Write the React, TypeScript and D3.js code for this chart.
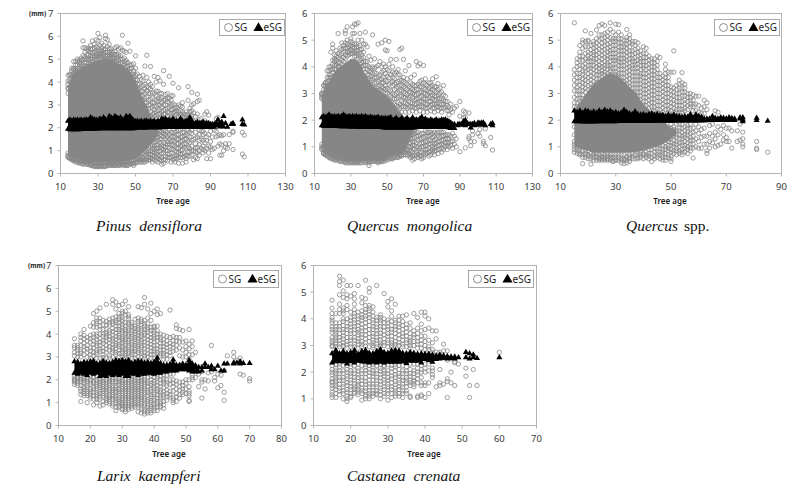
import * as d3 from "d3";

type Row = number[]; // [age, value, value, ...]

const yTicks7 = [0, 1, 2, 3, 4, 5, 6, 7];
const yTicks6 = [0, 1, 2, 3, 4, 5, 6];
const xTicks130 = [10, 30, 50, 70, 90, 110, 130];
const xTicks90 = [10, 30, 50, 70, 90];
const xTicks80 = [10, 20, 30, 40, 50, 60, 70, 80];
const xTicks70 = [10, 20, 30, 40, 50, 60, 70];

/* Saturated part of each SG cloud, read as [age, low, high] */
const pinusCore: Row[] = [[14,.87,3.75],[15,.78,4.05],[16,.72,4.25],[18,.65,4.45],[20,.6,4.55],[22,.55,4.65],[24,.52,4.75],[26,.5,4.85],[28,.48,4.9],[30,.47,4.95],[32,.47,5.0],[34,.47,5.05],[36,.47,5.0],[38,.47,4.95],[40,.5,4.85],[42,.52,4.75],[44,.52,4.65],[46,.55,4.55],[48,.6,4.35],[50,.66,4.05],[52,.8,3.65],[54,.92,3.25],[56,1.05,2.95],[58,1.25,2.55],[60,1.45,2.25],[62,1.7,2.0]];
const mongolicaCore: Row[] = [[14,1.0,2.95],[16,.8,3.25],[18,.7,3.45],[20,.63,3.7],[22,.58,3.9],[24,.55,4.0],[26,.52,4.1],[28,.5,4.2],[30,.5,4.3],[32,.48,4.3],[34,.48,4.2],[36,.5,4.0],[38,.5,3.7],[40,.5,3.5],[42,.5,3.3],[44,.5,3.2],[46,.52,3.1],[48,.55,3.0],[50,.6,2.9],[52,.63,2.75],[54,.7,2.55],[56,.7,2.35],[58,.75,2.25],[60,.85,2.05],[62,1.2,1.85],[64,1.5,1.7]];
const quercusCore: Row[] = [[15,1.0,2.4],[18,.9,2.8],[20,.85,3.1],[22,.78,3.35],[25,.78,3.6],[28,.78,3.75],[31,.78,3.65],[34,.78,3.35],[37,.8,3.05],[40,.85,2.6],[43,.95,2.3],[46,1.05,2.1],[48,1.15,1.9],[50,1.3,1.7],[52,1.5,1.65]];
const larixCore: Row[] = [];
const castaneaCore: Row[] = [];

/* SG circles around the core: [age, values...] */
const pinusSg: Row[] = [
[14,3.5,3.7,3.9,4.3,.8,.9],[15,3.8,4.0,4.35,.7],[16,4.0,4.2,4.5,.65],[17,4.3,4.6,.7,.6],[18,4.4,4.6,4.9,.6],[19,4.5,4.9,.55],[20,4.6,4.95,.5],[21,4.5,4.8,5.05,.55],[22,4.6,5.0,5.5,5.8,.45],[23,4.7,5.1,5.3,.5],[24,4.7,5.0,5.45,.4],[25,4.8,5.2,5.5,.45],[26,4.8,5.3,5.6,.4],[27,4.9,5.25,5.8,.4],[28,5.0,5.5,5.65,.35],[29,5.0,5.3,5.85,.35],[30,5.0,5.25,5.5,6.13,.3],[31,5.05,5.4,5.95,.35],[32,5.0,5.35,5.7,.35],[33,5.1,5.4,5.6,.3],[34,5.05,5.3,5.9,6.05,.3],[35,5.0,5.55,5.85,.4],[36,5.1,5.3,5.65,.45],[37,5.0,5.2,5.45,.4],[38,4.9,5.1,5.3,.4],[39,4.9,5.2,5.5,.4],[40,4.85,5.05,5.55,.45],[41,4.8,5.2,5.45,.4],[42,4.7,5.0,5.5,.35],[43,4.65,5.4,6.05,.45],[44,4.6,4.9,5.35,.4],[45,4.5,4.85,5.3,.35],[46,4.4,4.7,5.7,.4],[47,4.3,4.75,5.35,.5],[48,4.2,4.6,.45],[49,4.1,4.5,4.8,.35],[50,3.8,4.1,5.15,.5],
[51,3.1,3.5,3.9,4.35,.6,.8],[52,2.9,3.3,3.7,4.25,.5,.7],[53,2.7,3.2,3.6,4.1,.75,.5],[54,2.6,3.0,3.4,3.85,4.3,.5,.7],[55,2.5,2.9,3.3,3.7,4.7,.5,.8],[56,2.6,3.1,3.6,4.2,5.17,.55,.9,1.0],[57,2.3,2.8,3.2,3.75,4.0,.6,.95],[58,2.5,3.0,3.5,3.9,4.68,.6,1.0,1.2],[59,2.4,2.9,3.3,3.8,.5,.8,1.1,1.5],[60,2.5,2.8,3.1,4.25,.6,.9,1.2,1.5,1.8],[61,2.4,2.7,3.2,3.6,4.0,.55,.85,1.1,1.4,1.7],[62,2.6,3.0,3.3,4.2,.5,.8,1.25,1.6,1.9],[63,2.4,2.8,3.25,4.05,.6,1.0,1.35,1.7],[64,2.5,2.9,3.1,3.5,.4,.7,1.1,1.5,1.8],[65,2.4,2.75,3.2,3.9,4.5,.45,.9,1.2,1.6,1.9],[66,2.6,3.0,3.45,.6,1.0,1.3,1.7],[67,2.5,2.85,3.15,3.5,.55,.85,1.4,1.8],[68,2.4,2.9,3.3,4.25,.7,1.1,1.5,1.9],[69,2.6,3.0,3.4,.5,.9,1.25,1.6],[70,2.5,2.8,3.05,3.95,.6,1.05,1.45,1.8],[71,2.4,2.7,3.0,.5,.75,1.2,1.6],[72,2.6,2.9,.8,1.1,1.5,1.85],[73,2.5,3.75,.45,.9,1.3,1.7],[74,2.45,2.75,.7,1.0,1.4,1.9],[75,2.5,2.9,3.1,.45,.85,1.25,1.6],[76,2.3,2.6,.9,1.15,1.5,1.8],[77,2.45,2.7,.5,.8,1.3,1.7],[78,2.6,3.2,3.8,.95,1.4,1.9],[79,2.5,2.85,.75,1.1,1.6],[80,2.4,2.75,3.0,3.55,.8,1.2,1.75],[81,2.3,2.65,3.05,.6,1.0,1.5],[82,2.5,.7,1.3,1.8],[83,2.6,3.15,3.47,.65,.9,1.15,1.6],[84,2.35,3.2,.8,1.25,1.7],[85,2.4,1.1,1.5,1.85],[86,.9,1.2,1.7],[87,2.3,2.6,1.0,1.35,1.75],[88,2.7,.65,1.1,1.45,1.6],[89,2.55,.9,1.2,1.7],[90,.65,1.15,1.4,1.85],[91,1.05,1.6],[92,1.1,1.9],[93,2.4,1.6,1.85],[94,2.45,1.65,1.2],[95,.8,1.3,1.7],[96,.8,1.25,1.65],[97,1.7,1.0],[98,1.15,1.3],[99,1.1],[100,1.3,1.7],[102,1.05,1.8,1.85],[107,.85,1.8],[108,.73,1.68],
];
const pinusSgDense: Row[] = [
[14,3.75,4.05,.75,.7],[15,4.1,4.3,.65,.8],[16,4.3,4.6,.6,.7],[17,4.4,4.55,4.9,.55,.65],[18,4.5,4.75,.5,.6],[19,4.6,4.75,5.0,.5,.6],[20,4.7,4.85,.45,.55],[21,4.7,4.95,.45,.6],[22,4.75,5.15,.4,.55],[23,4.85,5.0,5.5,.45,.55],[24,4.85,5.2,.4,.5],[25,4.95,5.05,5.4,.4,.5],[26,5.0,5.15,5.45,.35,.5],[27,5.0,5.15,5.45,.35,.45],[28,5.1,5.3,.3,.45],[29,5.1,5.2,5.55,.3,.45],[30,5.1,5.35,5.8,.35,.5],[31,5.15,5.25,5.6,.3,.45],[32,5.15,5.25,5.5,.3,.45],[33,5.2,5.3,.35,.45],[34,5.15,5.45,.35,.5],[35,5.15,5.3,.35,.45],[36,5.2,5.45,.35,.5],[37,5.1,5.35,.35,.45],[38,5.05,5.2,.35,.45],[39,5.05,5.35,.35,.5],[40,4.95,5.2,.35,.5],[41,4.95,5.1,.35,.45],[42,4.85,5.15,.4,.5],[43,4.8,5.0,.4,.5],[44,4.75,5.05,.35,.5],[45,4.65,4.95,.4,.5],[46,4.55,4.85,.35,.5],[47,4.45,4.6,.45,.55],[48,4.35,4.75,.4,.55],[49,4.25,4.35,.45,.55],[50,3.95,4.3,4.6,.45,.6],
[51,3.3,3.7,4.1,.5,.7,1.0],[52,3.1,3.5,3.9,.6,.85,1.05],[53,2.9,3.4,3.8,.6,.85,1.1],[54,2.8,3.2,3.6,4.05,.6,.85,1.15],[55,2.7,3.1,3.5,3.9,.6,.95,1.25],[56,2.85,3.35,3.8,.65,.75,1.2],[57,2.55,3.0,3.5,.7,.85,1.15,1.35],[58,2.7,3.25,3.7,.7,.85,1.4,1.6],[59,2.6,3.1,3.55,.65,.95,1.25,1.7],[60,2.65,2.95,3.5,.75,1.05,1.35,1.65],[61,2.55,2.95,3.4,.7,.95,1.25,1.55,1.85],[62,2.75,3.15,3.6,.65,.95,1.1,1.45,1.75],[63,2.6,3.0,3.5,.75,1.15,1.5,1.85],[64,2.7,3.3,.55,.85,1.25,1.65],[65,2.6,3.0,.6,1.05,1.35,1.75],[66,2.8,3.25,.75,1.15,1.5,1.85],[67,2.7,3.3,.7,1.0,1.25,1.6],[68,2.65,3.1,.85,1.3,1.7],[69,2.8,3.2,.7,1.05,1.4,1.8],[70,2.65,3.4,.75,1.25,1.6],[71,2.55,2.85,.65,1.0,1.4,1.8],[72,2.75,.65,.95,1.3,1.7],[73,2.7,3.0,.7,1.1,1.5,1.9],[74,2.6,2.95,.85,1.2,1.6],[75,2.7,.7,1.05,1.45,1.8],[76,2.45,.75,1.3,1.65],[77,2.55,.65,1.1,1.5,1.9],[78,2.4,.75,1.15,1.65],[79,2.7,.95,1.35,1.8],[80,2.55,1.0,1.45,1.9],[82,.95,1.1,1.55],[84,1.0,1.45,1.9],[86,1.05,1.45,1.85],
];
const mongolicaSg: Row[] = [
[14,2.8,2.95,3.0,.95,1.0],[15,3.3,3.0,2.85,.75,.8,1.0],[16,3.4,3.25,3.1,.7,.75],[17,3.45,3.3,3.85,.7],[18,3.5,3.7,4.0,.65],[19,3.6,3.9,4.55,.6],[20,3.8,4.1,4.85,4.7,.6],[21,3.9,4.2,4.45,.55],[22,3.9,4.1,4.4,4.6,.6],[23,4.0,4.35,5.25,.55],[24,4.0,4.3,4.7,.5],[25,4.1,4.5,4.9,.55],[26,4.2,4.55,4.8,.5],[27,4.3,4.7,5.25,5.35,.45],[28,4.4,4.7,5.0,5.5,.5],[29,4.45,4.6,4.85,.5],[30,4.5,4.8,5.05,.45],[31,4.5,4.75,5.5,5.25,.5],[32,4.4,4.7,5.25,5.6,.45],[33,4.4,4.6,4.85,5.6,.45],[34,4.3,4.6,5.0,5.65,.45],[35,4.1,4.5,4.8,5.25,.5],[36,4.0,4.3,4.65,5.0,.5],[37,3.9,4.2,4.55,4.85,.55],[38,3.6,4.05,4.85,5.3,.45],[39,3.5,3.9,4.2,4.75,.5],[40,3.4,3.7,4.0,4.4,.45,.3],[41,3.3,3.65,3.95,4.25,.5],[42,3.2,3.55,4.0,5.2,.55],[43,3.2,3.6,3.95,4.3,.5],[44,3.0,3.4,3.75,4.0,.5],[45,3.1,3.45,4.05,4.85,.45],[46,3.0,3.3,3.7,4.2,.5],[47,2.9,3.25,3.55,4.0,4.9,.5],[48,2.85,3.2,3.6,4.1,.55],[49,2.8,3.15,3.5,4.0,4.63,5.0,.55],[50,2.6,3.0,3.45,3.9,4.6,.6],[51,2.4,2.75,3.15,3.6,4.1,4.95,.6],[52,2.3,2.7,3.1,3.7,4.28,.65],[53,2.4,2.8,3.3,3.6,4.0,.6],
[54,2.25,2.6,2.95,3.35,3.75,.65,.8],[55,2.4,2.8,3.2,3.8,4.28,.7],[56,2.3,2.65,3.05,3.45,3.9,.65],[57,2.45,2.9,3.3,3.7,4.65,.7,.9],[58,2.3,2.7,3.1,3.5,4.7,.65,.85],[59,2.5,2.85,3.25,3.6,4.28,.7,.95],[60,2.3,2.65,3.0,3.4,3.85,.8,1.05,1.3],[61,2.45,2.8,3.15,3.55,.7,.9,1.2,1.5],[62,2.3,2.7,3.05,4.05,.65,1.0,1.35,1.6],[63,2.5,2.9,3.2,3.6,.6,.85,1.15,1.45],[64,2.35,2.65,3.0,3.35,.5,.8,1.05,1.3,1.55],[65,2.45,2.75,3.1,3.7,.55,.9,1.2,1.6],[66,2.3,2.6,2.95,3.3,4.2,.65,1.0,1.4],[67,2.5,2.8,3.15,4.03,.6,.85,1.25,1.55],[68,2.35,2.7,3.05,3.45,4.12,.65,.95,1.3],[69,2.5,2.9,3.25,.55,.8,1.15,1.5],[70,2.3,2.65,3.0,3.4,4.05,.6,1.0,1.35],[71,2.45,2.8,3.15,3.55,.7,.9,1.2,1.6],[72,2.3,2.6,2.95,3.3,.75,1.05,1.4],[73,2.5,2.85,3.2,.65,.95,1.25,1.55],[74,2.35,2.7,3.05,3.4,.7,1.1,1.45],[75,2.45,2.8,3.55,3.15,.8,1.0,1.35],[76,2.3,2.6,2.9,3.25,.7,.95,1.25,1.55],[77,2.5,2.75,3.05,3.63,.85,1.15,1.5],[78,2.35,2.65,2.95,3.37,.75,1.05,1.4],[79,2.45,2.8,3.2,.9,1.2,1.55],[80,2.3,2.6,3.05,.8,1.1,1.4],[81,2.45,2.75,3.3,.9,1.25,1.55],[82,2.5,2.9,1.0,1.3],[83,2.35,2.7,.9,1.15,1.45],[84,2.2,2.5,1.0,1.3],[85,2.6,1.05,1.4],[86,2.3,.95,1.2,1.5],[87,2.45,1.1,1.4],[88,2.52,1.0,1.3],[90,2.7,.82,2.15],[92,2.35,2.1],[93,.96,2.1,2.3],[95,2.27,1.38,1.3],[96,1.04,1.2],[97,1.6,1.45],[98,1.2],[100,1.5],[101,1.4,1.65],[103,1.12,1.2],[104,1.04,1.68],[107,1.35],[108,.88],
];
const mongolicaSgDense: Row[] = [
[14,2.85,3.0,.9,1.1],[15,3.15,3.3,.75,.9],[16,3.3,3.4,.7,.85],[17,3.6,3.4,.65,.8],[18,3.6,3.85,.6,.75],[19,3.7,4.0,.55,.7],[20,3.9,4.25,.55,.7],[21,4.05,4.3,.5,.65],[22,4.05,4.25,.5,.6],[23,4.15,4.5,.5,.65],[24,4.15,4.45,.45,.6],[25,4.25,4.65,.45,.6],[26,4.35,4.7,.45,.55],[27,4.45,4.9,.4,.55],[28,4.55,4.85,.4,.55],[29,4.55,4.75,.4,.5],[30,4.65,4.95,.4,.55],[31,4.6,4.9,.4,.55],[32,4.55,4.85,.4,.5],[33,4.5,4.75,.4,.55],[34,4.45,4.75,.4,.5],[35,4.25,4.65,.4,.55],[36,4.15,4.45,.4,.55],[37,4.05,4.35,.45,.6],[38,3.8,4.2,.4,.55],[39,3.7,4.05,.45,.6],[40,3.55,3.85,.4,.55],[41,3.5,3.8,.45,.6],[42,3.35,3.75,.45,.6],[43,3.4,3.8,.45,.55],[44,3.2,3.6,.45,.6],[45,3.25,3.65,.4,.55],[46,3.15,3.5,.45,.6],[47,3.1,3.4,3.8,.45,.55],[48,3.05,3.4,3.85,.45,.6],[49,3.0,3.3,3.75,.5,.65],[50,2.75,3.2,3.65,.5,.7],[51,2.6,2.95,3.35,3.85,.55,.7],[52,2.5,2.9,3.4,.55,.75],[53,2.55,3.0,3.45,3.8,.55,.75],
[54,2.45,2.8,3.15,3.55,.6,.9],[55,2.55,3.0,3.4,.6,.85,1.0],[56,2.5,2.85,3.25,3.7,.6,.8,1.05],[57,2.6,3.1,3.5,.65,.8,1.1],[58,2.5,2.9,3.3,.7,.95,1.2],[59,2.65,3.05,3.45,.8,1.1,1.4],[60,2.5,2.85,3.2,.7,.9,1.2,1.5],[61,2.6,2.95,3.35,.85,1.05,1.35,1.65],[62,2.5,2.85,3.25,.75,.85,1.15,1.45],[63,2.65,3.05,3.4,.7,1.0,1.3,1.6],[64,2.5,2.85,3.15,.65,.95,1.2,1.45],[65,2.6,2.95,3.3,.7,1.05,1.35,1.5],[66,2.45,2.8,3.15,.8,1.15,1.55],[67,2.65,3.0,3.35,.7,1.0,1.4],[68,2.5,2.85,3.25,.8,1.1,1.45],[69,2.7,3.05,3.5,.65,1.0,1.3],[70,2.5,2.8,3.2,.75,1.15,1.5],[71,2.6,3.0,3.35,.8,1.05,1.4],[72,2.45,2.8,3.1,.9,1.2,1.55],[73,2.7,3.05,3.4,.8,1.1,1.4],[74,2.55,2.9,3.25,.85,1.25,1.55],[75,2.6,2.95,3.3,.9,1.15,1.5],[76,2.45,2.75,3.1,.85,1.1,1.4],[77,2.6,2.9,3.25,1.0,1.3],[78,2.5,2.8,3.15,.9,1.2,1.55],[79,2.6,3.0,1.05,1.35],[80,2.45,2.8,.95,1.25,1.55],[81,2.6,2.95,1.05,1.4],[82,2.7,1.15,1.45],[83,2.55,1.05,1.3],[84,2.35,1.15,1.45],[85,2.4,1.2],
];
const quercusSg: Row[] = [
[15,5.65,3.9,3.5,3.1,2.85,2.5,.8,1.0,1.2],[16,4.3,4.0,3.75,3.45,3.1,2.8,2.5,.75,.95],[17,4.8,4.55,4.25,3.9,3.6,3.3,2.95,2.7,.75,.85],[18,5.0,4.9,4.4,4.05,3.7,3.4,3.1,2.8,.37,.7],[19,5.35,4.75,4.5,4.1,3.85,3.5,3.2,.7,.6],[20,4.95,4.55,4.3,4.05,3.75,3.45,3.15,.7,.55],[21,5.25,4.8,4.5,4.2,3.95,3.65,3.35,.35,.65],[22,4.95,4.7,4.45,4.2,3.9,3.6,3.3,.6,.5],[23,5.38,5.05,4.75,4.45,4.15,3.85,3.55,.65,.5],[24,5.55,5.0,4.8,4.5,4.2,3.95,3.7,.6,.5],[25,5.6,5.2,4.9,4.6,4.3,4.0,3.75,.55,.65],[26,5.55,5.25,4.95,4.65,4.35,4.05,3.8,.5,.6],[27,5.15,4.85,4.55,4.3,4.05,3.75,.5,.65],[28,5.65,5.4,4.75,4.5,4.2,3.95,3.7,.5,.6],[29,5.05,4.8,4.5,4.25,3.95,3.7,.45,.6],[30,5.6,5.2,4.95,4.65,4.35,4.1,3.8,.5,.6],[31,5.58,5.05,4.75,4.45,4.2,3.9,3.65,.5],[32,5.2,4.9,4.6,4.3,4.05,3.75,3.5,.4,.55],[33,5.0,4.75,4.45,4.2,3.9,3.6,3.35,.37,.55],[34,5.4,5.1,4.85,4.55,4.25,3.95,3.65,3.35,.4,.6],[35,5.2,4.9,4.6,4.3,4.0,3.7,3.4,.45,.6],[36,4.85,4.6,4.3,4.05,3.8,3.5,3.2,.55,.65],[37,4.95,4.65,4.35,4.1,3.8,3.5,3.2,2.95,.55],[38,4.9,4.55,4.25,3.95,3.65,3.35,3.05,.55,.7],[39,4.45,4.2,3.9,3.65,3.35,3.05,2.75,.6,.8],[40,4.75,4.5,4.2,3.95,3.6,3.3,3.0,2.7,2.45,.55,.7],[41,4.7,4.35,4.05,3.75,3.45,3.15,2.85,2.55,.7,.6],[42,4.4,4.1,3.8,3.5,3.2,2.9,2.6,.55,.75],[43,4.3,4.0,3.7,3.4,3.1,2.8,2.5,2.25,.45,.75],[44,4.15,3.85,3.55,3.25,2.95,2.65,2.35,.65,.8],[45,4.4,4.2,3.9,3.6,3.3,3.0,2.7,2.4,.6,.8],[46,3.75,3.45,3.15,2.85,2.55,2.25,.55,.8,.95],[47,3.65,3.35,3.05,2.75,2.45,.5,.7,.9],[48,4.1,3.9,3.6,3.3,3.0,2.7,2.4,.5,.75,1.0],[49,3.8,3.45,3.15,2.85,2.55,2.3,.7,.85,1.05,1.3,1.55],[50,3.8,3.25,2.95,2.65,2.35,.45,.65,.9,1.15,1.4,1.7],[51,4.6,3.8,3.2,2.9,2.6,2.3,.75,1.0,1.25,1.5,1.75],[52,3.3,3.0,2.7,2.4,.7,.95,1.2,1.45],[53,3.5,3.2,2.85,2.55,2.3,.75,1.0,1.3,1.6,1.85],[54,3.78,3.4,3.05,2.7,2.4,.7,.9,1.15,1.4,1.7],[55,3.35,3.05,2.75,2.45,.8,1.05,1.35,1.6],[56,3.0,2.7,2.4,.75,1.0,1.3,1.55,1.8],[57,3.0,2.75,2.5,.85,1.1,1.35,1.7],[58,2.95,2.6,2.35,.58,.95,1.25,1.55],[59,2.9,2.6,2.35,1.0,1.3,1.6,1.85],[60,2.9,2.55,2.3,.95,1.2,1.5,1.75],[61,2.45,2.25,.95,1.35,1.65],[62,2.75,2.5,2.25,1.1,1.4,1.7],[63,2.65,2.4,.75,.85,1.1,1.4],[64,.95,1.2,1.5,1.8],[65,1.15,1.4,1.85],[66,2.35,1.0,1.3,1.55],[67,2.3,1.05,1.45,1.75],[68,1.1,1.65],[69,1.25,1.45,1.8],[70,1.2,1.35,1.7],[71,1.2,1.7],[72,.95,1.6],[74,1.2,1.6],[75,1.25,1.85],[76,1.0,1.1,1.3,1.55],[81,.95,1.2,.9],[85,.8],
];
const quercusSgDense: Row[] = [
[15,3.3,2.65,3.7,.9,1.1,1.45,1.75],[16,4.15,3.6,3.25,2.95,2.65,.85,1.15],[17,4.4,4.05,3.75,3.45,3.1,2.8,.95,.7],[18,4.7,4.25,3.85,3.55,3.25,2.95,.85,.6],[19,4.95,4.3,3.95,3.65,3.35,3.05,.85,.75],[20,5.0,4.75,4.4,4.2,3.9,3.6,3.3,.85,.65],[21,4.65,4.35,4.05,3.8,3.5,3.2,.75,.55],[22,4.85,4.55,4.3,4.05,3.75,3.45,.7,.8],[23,4.9,4.6,4.3,4.0,3.7,3.4,.75,.6],[24,5.2,4.65,4.35,4.05,3.8,3.55,.7,.55],[25,5.05,4.75,4.45,4.15,3.85,3.6,.75,.5],[26,5.1,4.8,4.5,4.2,3.95,3.7,.7,.55],[27,5.3,5.0,4.7,4.4,4.15,3.9,3.65,.75,.55],[28,5.1,4.9,4.6,4.35,4.05,3.85,.7,.55],[29,5.3,4.95,4.65,4.35,4.1,3.8,.7,.5],[30,5.05,4.8,4.5,4.25,3.95,3.7,.7,.5],[31,5.3,4.9,4.6,4.3,4.05,3.75,.7,.6],[32,5.05,4.75,4.45,4.15,3.9,3.6,.7,.5],[33,4.85,4.6,4.3,4.05,3.75,3.45,.7,.5],[34,5.0,4.7,4.4,4.1,3.8,3.5,.65,.5],[35,5.05,4.75,4.45,4.15,3.85,3.55,3.25,.7,.55],[36,4.95,4.45,4.2,3.95,3.65,3.35,3.05,.75],[37,4.8,4.5,4.2,3.95,3.65,3.35,3.05,.7],[38,4.7,4.4,4.1,3.8,3.5,3.2,2.9,.8,.6],[39,4.6,4.3,4.05,3.75,3.5,3.2,2.9,2.6,.7],[40,4.35,4.05,3.75,3.45,3.15,2.85,2.55,.75],[41,4.5,4.2,3.9,3.6,3.3,3.0,2.7,2.4,.8],[42,4.25,3.95,3.65,3.35,3.05,2.75,2.45,.65,.9],[43,4.15,3.85,3.55,3.25,2.95,2.65,2.35,.6,.9],[44,4.3,4.0,3.7,3.4,3.1,2.8,2.5,.55,.95],[45,4.05,3.75,3.45,3.15,2.85,2.55,2.3,.7,.95],[46,4.35,3.6,3.3,3.0,2.7,2.4,.7,1.05],[47,3.5,3.2,2.9,2.6,2.3,.6,.8,1.05],[48,3.75,3.45,3.15,2.85,2.55,.6,.9,1.15],[49,3.6,3.3,3.0,2.7,2.4,.6,.95,1.2,1.45,1.75],[50,3.1,2.8,2.5,.55,.8,1.05,1.3,1.55,1.85],[51,3.05,2.75,2.45,.85,1.1,1.4,1.65],[52,3.15,2.85,2.55,2.3,.85,1.1,1.35,1.6,1.85],[53,3.35,3.0,2.7,2.4,.85,1.15,1.45,1.7],[54,3.2,2.9,2.55,2.3,.8,1.05,1.3,1.55,1.85],[55,3.2,2.9,2.6,2.35,.95,1.2,1.45,1.75],[56,2.85,2.55,.9,1.15,1.45,1.7],[57,2.85,2.6,.95,1.25,1.5,1.85],[58,2.75,2.5,1.1,1.4,1.7],
];
const larixSg: Row[] = [
[15,3.8,3.5,3.2,2.0,1.9,1.8],[16,3.5,3.3,3.15,3.0,2.1,1.95,1.75],[17,4.0,3.85,3.5,3.25,3.0,2.1,1.9,1.6,1.35,1.05],[18,4.2,3.8,3.6,3.3,3.1,2.05,1.85,1.7,1.5,1.3],[19,3.7,3.5,3.2,2.1,1.9,1.75,1.5,1.3,1.0],[20,4.35,3.95,3.65,3.4,3.1,2.0,1.8,1.6,1.4,1.2],[21,4.9,4.5,4.0,3.7,3.4,3.2,3.05,2.1,1.85,1.6,1.3,.9],[22,5.0,4.7,4.55,4.3,4.0,3.75,3.5,3.3,3.1,2.0,1.8,1.6,1.45,1.25,1.0],[23,5.15,4.55,4.35,4.0,3.8,3.5,3.25,2.05,1.85,1.65,1.4,1.15,.85],[24,4.6,4.4,3.9,3.6,3.4,3.1,2.1,1.9,1.7,1.5,1.3,.9],[25,5.3,4.55,4.2,3.95,3.7,3.5,3.2,2.0,1.8,1.6,1.4,1.2,1.0],[26,4.65,4.4,4.15,3.9,3.6,3.3,3.05,2.05,1.85,1.6,1.35,1.15,.95],[27,5.5,5.3,4.7,4.45,4.25,3.95,3.7,3.4,3.2,2.1,1.9,1.65,1.45,1.25,.85],[28,5.4,5.1,4.75,4.5,4.2,3.9,3.6,3.35,3.1,2.0,1.75,1.55,1.3,1.1,.65],[29,5.25,4.9,4.65,4.35,4.1,3.85,3.55,3.3,2.05,1.85,1.6,1.4,1.15,.95,.8],[30,5.3,5.0,4.75,4.55,4.3,4.05,3.8,3.6,3.35,3.15,2.1,1.9,1.7,1.5,1.3,1.1,.85,.7],[31,5.45,5.0,4.5,4.2,4.0,3.75,3.5,3.25,3.05,2.0,1.8,1.6,1.4,1.2,1.0,.8,.6],[32,5.2,4.85,4.65,4.4,4.15,3.9,3.65,3.4,3.15,2.1,1.9,1.7,1.5,1.3,1.1,.9,.7],[33,4.5,4.3,4.05,3.8,3.55,3.3,3.1,2.05,1.85,1.65,1.45,1.25,1.05,.85],[34,4.25,4.0,3.75,3.5,3.25,2.0,1.8,1.6,1.4,1.2,1.0,.8],[35,5.2,4.7,4.45,4.2,3.95,3.7,3.45,3.2,2.1,1.9,1.7,1.5,1.3,1.1,.9,.6],[36,5.15,4.65,4.4,4.15,3.9,3.65,3.4,3.15,2.05,1.85,1.65,1.45,1.25,1.05,.8,.55],[37,5.6,5.3,4.6,4.35,4.05,3.8,3.5,3.2,2.0,1.8,1.6,1.35,1.1,.85,.5],[38,5.1,4.7,4.3,4.1,3.75,3.45,3.15,2.1,1.85,1.55,1.3,1.05,.8,.55],[39,5.35,4.9,4.3,4.0,3.7,3.4,3.1,2.0,1.75,1.5,1.25,1.0,.75,.55],[40,5.0,4.3,4.05,3.8,3.5,3.25,2.1,1.85,1.6,1.35,1.1,.85,.65],[41,5.1,4.85,4.35,4.0,3.7,3.35,3.1,2.05,1.75,1.5,1.2,.95,.65],[42,4.9,4.0,3.75,3.45,3.15,2.0,1.7,1.45,1.2,.95,.8],[43,3.95,3.6,3.3,3.05,2.05,1.85,1.5,1.25,.9,.75],[44,3.9,3.55,3.25,2.0,1.75,1.4,1.1],[45,5.05,3.6,3.45,1.8,1.25],[46,3.9,3.7,3.4,2.0,1.7,1.1,1.0],[47,4.4,4.25,3.85,3.5,1.95,1.6,1.25,1.05],[48,4.2,3.65,3.05,1.9,1.55,1.2],[49,4.15,3.3,1.75,1.6,1.35],[50,3.7,3.45,3.0,1.85,1.4],[51,4.2,3.55,3.1,2.0,1.5,1.3,1.1,1.05],[52,3.7,3.45,2.2,2.0],[53,3.2,2.1],[54,1.7,2.25],[55,1.9,2.0,1.2,2.35],[56,2.0,1.6],[57,2.3,1.95],[58,3.5,2.35],[59,2.1,1.95],[60,2.25,1.65],[61,2.2,1.75],[62,2.4,1.45,1.1],[63,3.05],[65,3.2,3.0],[66,2.85],[67,2.95,2.25],[68,2.2],[70,2.05,1.95],
];
const larixSgDense: Row[] = [
[15,3.4,3.05,1.95,2.05,2.15],[16,3.4,2.05,1.85,2.15],[17,3.7,3.15,2.0,1.75,1.5,2.2],[18,3.95,3.45,1.95,1.6,1.4,2.12],[19,3.85,3.35,2.98,2.0,1.65,1.4],[20,3.8,3.25,2.95,1.9,1.5,1.3,2.15],[21,4.3,3.85,3.55,1.95,1.7,1.45,1.15,2.12],[22,4.45,3.9,3.6,3.2,2.95,1.9,1.7,1.35,1.15,2.15],[23,4.7,4.2,3.65,3.35,2.95,1.95,1.75,1.5,1.25],[24,4.2,4.0,3.7,3.25,2.98,2.0,1.8,1.6,1.4,1.05],[25,4.4,4.05,3.85,3.35,2.95,1.9,1.7,1.5,1.3,1.1],[26,4.5,4.05,3.75,3.45,2.95,1.95,1.75,1.5,1.25,1.05,2.12],[27,4.55,4.1,3.8,3.55,3.3,3.0,2.0,1.75,1.55,1.35,1.15,.95],[28,4.6,4.35,4.05,3.75,3.5,3.2,1.9,1.65,1.45,1.2,1.0,.8,2.1],[29,4.75,4.5,4.2,3.95,3.7,3.45,3.15,3.0,1.95,1.75,1.5,1.3,1.05,.85],[30,4.9,4.65,4.4,4.15,3.9,3.7,3.45,3.25,3.0,2.0,1.8,1.6,1.4,1.2,1.0,.95,.75],[31,4.85,4.35,4.1,3.85,3.6,3.35,3.15,2.95,1.9,1.7,1.5,1.3,1.1,.9,.7],[32,4.75,4.5,4.25,4.0,3.75,3.5,3.25,3.0,2.0,1.8,1.6,1.4,1.2,1.0,.8],[33,4.4,4.15,3.9,3.65,3.4,3.2,2.95,1.95,1.75,1.55,1.35,1.15,.95,.75,2.15],[34,4.65,4.35,4.1,3.85,3.6,3.35,3.1,2.95,1.9,1.7,1.5,1.3,1.1,.9,2.12],[35,4.55,4.3,4.05,3.8,3.55,3.3,3.0,2.0,1.8,1.6,1.4,1.2,1.0,.8],[36,4.55,4.25,4.0,3.75,3.5,3.25,3.0,1.95,1.75,1.55,1.35,1.15,.95,.7,2.12],[37,4.45,4.2,3.95,3.65,3.35,3.05,2.95,1.9,1.7,1.45,1.2,.95,.7,.6,2.12],[38,4.45,4.2,3.9,3.6,3.3,3.0,1.95,1.7,1.45,1.15,.9,.65],[39,4.6,4.15,3.85,3.55,3.25,2.95,1.85,1.6,1.35,1.1,.85,.65,2.15],[40,4.35,4.15,3.9,3.65,3.35,3.1,2.95,1.95,1.7,1.45,1.2,.95,.75],[41,4.15,3.85,3.5,3.2,1.9,1.6,1.35,1.05,.8,2.15],[42,3.85,3.6,3.3,3.05,1.85,1.55,1.3,1.05,.85,2.15],[43,3.75,3.45,3.15,2.9,1.95,1.65,1.35,1.05,2.2],[44,3.7,3.4,3.1,2.9,1.85,1.55,1.25,2.2],[45,3.85,3.2,3.05,2.0,1.5,1.35,2.25],[46,3.55,3.25,1.85,1.5,1.2,2.25],[47,3.7,3.3,1.8,1.4],[48,3.85,3.4,1.7,1.35],[49,3.65,3.0,1.9,1.45],[50,3.2,2.0,1.6],[51,3.35,2.9,1.7,1.4],[52,3.1,2.1],
];
const castaneaSg: Row[] = [
[15,4.7,4.4,4.2,4.05,3.85,3.7,3.5,3.3,3.1,2.95,2.1,1.9,1.75,1.6,1.4,1.25,1.05],[16,4.2,3.85,3.6,3.4,3.2,3.05,2.15,1.95,1.75,1.55,1.35,1.05],[17,5.6,5.4,5.25,4.9,4.55,4.35,3.85,3.6,3.3,3.05,2.2,1.95,1.7,1.4,1.15],[18,5.45,5.05,4.8,4.4,4.2,4.0,3.75,3.5,3.25,3.0,2.05,1.8,1.55,1.3,1.0],[19,5.25,4.9,4.75,4.5,4.0,3.7,3.45,3.15,2.1,1.85,1.6,1.35,1.1,.9],[20,5.25,4.85,4.25,4.05,3.8,3.55,3.3,3.05,2.2,1.95,1.7,1.45,1.2,1.05],[21,4.95,4.75,4.55,4.35,4.1,3.85,3.6,3.3,3.05,2.05,1.8,1.55,1.35,1.2],[22,5.25,4.25,4.0,3.75,3.5,3.25,3.05,2.15,1.9,1.65,1.45,1.25],[23,4.8,4.6,4.3,4.05,3.8,3.55,3.3,3.05,2.05,1.8,1.55,1.3,.95],[24,5.45,4.75,4.5,4.25,4.0,3.7,3.4,3.1,2.2,1.95,1.65,1.4,1.15,1.0],[25,5.15,5.0,4.5,4.3,4.05,3.75,3.45,3.15,2.1,1.85,1.55,1.3,1.0],[26,4.45,4.25,3.95,3.7,3.45,3.2,3.0,2.2,1.95,1.7,1.45,1.2],[27,5.25,4.05,3.8,3.55,3.3,3.05,2.05,1.8,1.55,1.3,1.15],[28,4.15,3.95,3.7,3.45,3.2,3.0,2.15,1.9,1.65,1.4,1.0],[29,4.95,4.0,3.7,3.4,3.1,2.2,1.95,1.7,1.45,1.2],[30,4.65,4.45,3.85,3.6,3.35,3.1,2.05,1.8,1.55,1.3,.95],[31,4.75,4.3,4.1,3.75,3.5,3.2,3.0,2.15,1.85,1.6,1.35,1.05],[32,4.55,3.85,3.6,3.3,3.05,2.2,1.9,1.65,1.4,1.1],[33,4.1,3.95,3.7,3.4,3.1,2.1,1.85,1.6,1.35,1.2],[34,4.1,3.9,3.6,3.35,3.05,2.05,1.8,1.55,1.3,1.05],[35,4.15,3.65,3.35,3.1,2.2,1.95,1.7,1.45,1.2],[36,3.85,3.45,3.2,3.0,2.1,1.85,1.6,1.1,1.05],[37,4.2,3.4,3.15,2.05,1.8,1.65,1.45],[38,4.05,3.65,3.3,3.05,2.15,1.9,1.6,1.1,1.05],[39,4.25,3.8,3.35,3.05,2.0,1.6,1.5,1.15,1.1],[40,4.25,4.1,3.6,3.0,2.15,1.6,1.05],[41,4.0,3.65,2.95,1.6,1.2],[42,3.55,2.75,2.15,2.05,1.9],[43,3.55,3.25,2.75,1.45],[44,2.75,2.1,1.6,1.5],[45,3.05,2.8,1.55],[46,2.8,2.45,1.75,1.65,1.05],[47,2.5,2.0,1.6],[48,2.4,2.35,1.5],[49,2.3],[51,2.15,1.85],[52,1.5,1.05],[53,2.1],[54,1.5],[60,2.75],
];
const castaneaSgDense: Row[] = [
[15,3.95,3.6,3.2,3.0,2.0,1.65,1.5,1.15,2.25],[16,3.7,3.5,3.3,3.1,2.95,2.05,1.85,1.65,1.45,1.2,2.28],[17,4.2,3.7,3.45,3.2,2.95,2.05,1.8,1.55,1.3,2.3],[18,4.3,3.9,3.6,3.35,3.1,2.95,1.95,1.7,1.45,1.2,2.25],[19,4.35,3.85,3.6,3.3,3.05,2.9,2.0,1.75,1.5,1.25,1.0,2.25],[20,3.95,3.7,3.45,3.2,2.95,2.05,1.85,1.6,1.35,1.1,2.3],[21,4.2,3.95,3.7,3.45,3.2,2.95,1.95,1.7,1.45,1.25,2.25],[22,4.1,3.85,3.6,3.4,3.15,2.9,2.05,1.8,1.55,1.35,1.15,2.3],[23,4.15,3.95,3.65,3.4,3.15,2.95,1.95,1.7,1.4,1.2,2.25],[24,4.35,4.1,3.85,3.55,3.25,2.98,2.05,1.8,1.55,1.3,1.1,2.28],[25,4.4,4.15,3.9,3.6,3.3,2.95,2.0,1.7,1.45,1.2,1.1,2.25],[26,4.1,3.85,3.6,3.35,3.1,2.92,2.05,1.85,1.55,1.3,1.1,2.28],[27,3.95,3.7,3.45,3.2,2.95,1.95,1.7,1.45,1.2,2.25],[28,4.05,3.85,3.6,3.35,3.1,2.95,2.05,1.8,1.55,1.3,1.15,2.28],[29,3.85,3.55,3.25,3.0,2.05,1.85,1.6,1.35,1.1,2.25],[30,3.95,3.7,3.45,3.2,2.95,1.95,1.7,1.45,1.2,2.28],[31,3.9,3.6,3.35,3.1,2.92,2.0,1.75,1.45,1.2,2.25],[32,3.95,3.7,3.45,3.15,2.95,2.05,1.8,1.55,1.3,1.2,2.28],[33,3.8,3.55,3.25,3.0,1.95,1.7,1.45,1.1,2.25],[34,3.75,3.45,3.2,2.95,1.95,1.7,1.45,1.2,2.25],[35,3.8,3.5,3.2,2.95,2.05,1.8,1.6,1.3],[36,3.65,3.3,3.1,2.9,1.95,1.7,1.5,2.3],[37,3.55,3.3,3.0,1.95,1.7,1.55,2.3],[38,3.45,3.15,2.9,2.0,1.75,2.3],[39,3.55,3.2,2.9,2.1,1.8,2.25],[40,3.35,3.15,2.85,2.0,1.5,2.3],[41,3.2,2.85,2.05,2.3],[42,3.1,2.85,1.8],
];

/* eSG band, [age, low, high]: triangles sit on both edges */
const pinusBand: Row[] = [[14,1.95,2.3],[15,1.92,2.35],[16,1.92,2.3],[17,1.93,2.35],[18,1.92,2.32],[19,1.93,2.35],[20,1.92,2.32],[21,1.94,2.35],[22,1.94,2.32],[23,1.95,2.35],[24,1.95,2.35],[25,1.95,2.32],[26,1.95,2.45],[27,1.95,2.4],[28,1.96,2.35],[29,1.96,2.35],[30,1.96,2.32],[31,1.97,2.4],[32,1.97,2.35],[33,1.97,2.45],[34,1.97,2.35],[35,1.97,2.32],[36,1.97,2.5],[37,1.97,2.45],[38,1.97,2.4],[39,1.97,2.5],[40,1.97,2.45],[41,1.97,2.4],[42,1.97,2.45],[43,1.97,2.35],[44,1.97,2.35],[45,1.97,2.5],[46,1.97,2.45],[47,1.97,2.5],[48,1.97,2.4],[49,1.97,2.32],[50,1.98,2.28],[51,2.0,2.3],[52,2.0,2.25],[53,2.0,2.3],[54,2.0,2.25],[55,2.0,2.3],[56,2.0,2.3],[57,2.01,2.25],[58,2.01,2.3],[59,2.01,2.25],[60,2.01,2.3],[61,2.01,2.25],[62,2.01,2.3],[63,2.01,2.25],[64,2.01,2.4],[65,2.02,2.35],[66,2.02,2.4],[67,2.02,2.3],[68,2.02,2.35],[69,2.02,2.3],[70,2.02,2.4],[71,2.02,2.3],[72,2.03,2.3],[73,2.03,2.25],[74,2.03,2.4],[75,2.03,2.3],[76,2.03,2.25],[77,2.03,2.3],[78,2.03,2.3],[79,2.03,2.45],[80,2.03,2.3],[81,2.03,2.2],[82,2.03,2.2],[83,2.03,2.25],[84,2.03,2.2],[85,2.03,2.2],[86,2.03,2.25],[87,2.03,2.2],[88,2.03,2.2],[89,2.03,2.2],[90,2.03,2.15],[91,2.03,2.15],[92,2.03,2.15]];
const mongolicaBand: Row[] = [[14,1.8,2.1],[15,1.78,2.15],[16,1.78,2.1],[17,1.78,2.15],[18,1.78,2.2],[19,1.78,2.15],[20,1.78,2.12],[21,1.77,2.15],[22,1.77,2.12],[23,1.77,2.15],[24,1.76,2.12],[25,1.76,2.15],[26,1.76,2.2],[27,1.76,2.15],[28,1.76,2.12],[29,1.75,2.15],[30,1.75,2.12],[31,1.75,2.15],[32,1.75,2.12],[33,1.75,2.15],[34,1.74,2.12],[35,1.74,2.12],[36,1.74,2.15],[37,1.74,2.1],[38,1.74,2.15],[39,1.74,2.1],[40,1.73,2.1],[41,1.73,2.12],[42,1.73,2.08],[43,1.73,2.1],[44,1.73,2.08],[45,1.73,2.12],[46,1.73,2.06],[47,1.73,2.08],[48,1.72,2.05],[49,1.72,2.08],[50,1.72,2.05],[51,1.72,2.08],[52,1.72,2.1],[53,1.72,2.0],[54,1.72,2.02],[55,1.72,2.08],[56,1.72,2.0],[57,1.72,2.0],[58,1.72,2.08],[59,1.72,2.0],[60,1.72,2.02],[61,1.72,2.08],[62,1.72,2.0],[63,1.72,2.0],[64,1.72,2.1],[65,1.72,2.0],[66,1.73,2.02],[67,1.73,2.0],[68,1.73,2.05],[69,1.73,2.12],[70,1.73,2.0],[71,1.73,2.05],[72,1.73,2.0],[73,1.73,1.98],[74,1.74,2.02],[75,1.74,1.98],[76,1.74,1.98],[77,1.74,2.02],[78,1.74,1.98],[79,1.74,1.98],[80,1.74,2.02],[81,1.74,2.0],[82,1.74,2.02],[83,1.74,1.98],[84,1.72,1.95],[85,1.7,1.9],[86,1.7,1.85],[87,1.7,1.85]];
const quercusBand: Row[] = [[15,1.95,2.35],[16,1.95,2.3],[17,1.95,2.35],[18,1.94,2.28],[19,1.94,2.35],[20,1.94,2.33],[21,1.94,2.28],[22,1.94,2.32],[23,1.94,2.28],[24,1.95,2.35],[25,1.95,2.3],[26,1.95,2.38],[27,1.95,2.32],[28,1.95,2.35],[29,1.95,2.28],[30,1.95,2.3],[31,1.96,2.25],[32,1.96,2.28],[33,1.96,2.38],[34,1.96,2.3],[35,1.96,2.25],[36,1.96,2.22],[37,1.96,2.32],[38,1.96,2.22],[39,1.96,2.2],[40,1.96,2.22],[41,1.96,2.18],[42,1.96,2.22],[43,1.97,2.25],[44,1.97,2.2],[45,1.97,2.22],[46,1.97,2.18],[47,1.97,2.2],[48,1.97,2.15],[49,1.97,2.2],[50,1.97,2.15],[51,1.97,2.2],[52,1.98,2.15],[53,1.98,2.15],[54,1.98,2.12],[55,1.98,2.15],[56,1.98,2.12],[57,1.98,2.22],[58,1.98,2.1],[59,1.98,2.2],[60,1.98,2.15],[61,1.98,2.12],[62,1.99,2.05],[63,1.99,2.05]];
const larixBand: Row[] = [[15,2.3,2.8],[16,2.25,2.78],[17,2.3,2.7],[18,2.25,2.78],[19,2.2,2.75],[20,2.3,2.8],[21,2.25,2.82],[22,2.3,2.7],[23,2.15,2.72],[24,2.2,2.82],[25,2.15,2.75],[26,2.25,2.72],[27,2.2,2.78],[28,2.25,2.85],[29,2.2,2.82],[30,2.25,2.85],[31,2.15,2.8],[32,2.15,2.85],[33,2.25,2.72],[34,2.25,2.78],[35,2.2,2.82],[36,2.25,2.8],[37,2.25,2.75],[38,2.3,2.78],[39,2.28,2.72],[40,2.25,2.78],[41,2.3,2.95],[42,2.3,2.72],[43,2.35,2.65],[44,2.35,2.65],[45,2.4,2.68],[46,2.4,2.88],[47,2.4,2.65],[48,2.45,2.65],[49,2.45,2.7],[50,2.45,2.65],[51,2.4,2.85],[52,2.35,2.7],[53,2.35,2.62],[54,2.35,2.55]];
const castaneaBand: Row[] = [[15,2.35,2.7],[16,2.4,2.82],[17,2.4,2.7],[18,2.4,2.78],[19,2.32,2.7],[20,2.4,2.75],[21,2.35,2.82],[22,2.42,2.68],[23,2.4,2.78],[24,2.38,2.82],[25,2.35,2.72],[26,2.38,2.7],[27,2.35,2.78],[28,2.38,2.85],[29,2.35,2.75],[30,2.38,2.72],[31,2.38,2.8],[32,2.38,2.82],[33,2.38,2.8],[34,2.4,2.72],[35,2.33,2.7],[36,2.42,2.75],[37,2.42,2.72],[38,2.42,2.68],[39,2.35,2.7],[40,2.48,2.68],[41,2.45,2.68],[42,2.38,2.65],[43,2.48,2.62],[44,2.5,2.65],[45,2.52,2.62],[46,2.5,2.6],[47,2.52,2.58],[48,2.5,2.58]];

/* eSG triangles that stand clear of the band */
const pinusEsg: Row[] = [[93,2.1,2.2],[94,2.15,2.35],[95,2.05,2.2],[96,2.1,2.25],[97,2.5,2.05],[98,2.2],[99,2.03],[101,2.15],[102,2.2,2.15],[107,2.35,2.15],[108,2.13]];
const mongolicaEsg: Row[] = [[89,1.8,1.85],[90,1.85],[91,1.85],[92,1.82,1.95],[93,1.8,2.0],[94,1.88],[95,1.85],[96,1.72,1.85],[97,1.85],[98,1.8,1.88],[100,1.82,1.9],[101,1.88],[102,1.9,1.85],[103,1.9,1.82],[104,1.8],[107,1.85],[108,1.8,1.88]];
const quercusEsg: Row[] = [[64,2.0,2.05],[65,2.0,2.15],[66,2.0,2.08],[67,2.0,2.05],[68,2.0,2.1],[69,2.02,2.08],[70,2.0,2.05],[71,2.0,2.1],[72,2.02,2.07],[73,2.0,2.05],[75,2.05,2.1],[76,1.95,2.02,2.1],[81,2.0,2.08],[85,1.97]];
const larixEsg: Row[] = [[55,2.55,2.4],[56,2.7,2.55],[57,2.55],[58,2.6,2.45],[59,2.45],[60,2.6],[61,2.4],[62,2.7,2.4],[63,2.7],[65,2.75,2.7],[66,2.75],[67,2.8,2.7],[68,2.72],[70,2.72]];
const castaneaEsg: Row[] = [[49,2.55],[51,2.75,2.55],[52,2.7,2.5],[53,2.65,2.55],[54,2.52],[60,2.55]];

const GRAY = "#868686";
const triangle = d3.symbol(d3.symbolTriangle, 16)()!;
const legendTriangle = d3.symbol(d3.symbolTriangle, 44)()!;

function Panel(props: {
  left: number; right: number; top: number; bottom: number;
  xTicks: number[]; yTicks: number[];
  core: Row[]; sg: Row[]; band: Row[]; esg: Row[];
  legendX: number; legendY: number; legendH: number;
  labelY: number; labelX: number;
}) {
  const { left, right, top, bottom, xTicks, yTicks, core, sg, band, esg } = props;
  const x = d3.scaleLinear().domain([xTicks[0], xTicks[xTicks.length - 1]]).range([left, right]);
  const y = d3.scaleLinear().domain([0, yTicks[yTicks.length - 1]]).range([bottom, top]);
  const area = d3.area<Row>().x((d) => x(d[0])).y0((d) => y(d[1])).y1((d) => y(d[2]));
  const axisColor = "#b4b4b4";
  const flat = (rows: Row[]) => rows.flatMap((r) => r.slice(1).map((v) => [r[0], v]));
  return (
    <g>
      <rect x={left} y={top} width={right - left} height={bottom - top} fill="none" stroke={axisColor} />
      {xTicks.map((t) => (
        <g key={t}>
          <line x1={x(t)} x2={x(t)} y1={bottom} y2={bottom + 3} stroke={axisColor} />
          <text x={x(t)} y={bottom + 16} textAnchor="middle" fontSize={9.5} fill="#3a3a3a">{t}</text>
        </g>
      ))}
      {yTicks.map((t) => (
        <g key={t}>
          <line x1={left - 3} x2={left} y1={y(t)} y2={y(t)} stroke={axisColor} />
          <text x={left - 7} y={y(t) + 3.5} textAnchor="end" fontSize={9.5} fill="#3a3a3a">{t}</text>
        </g>
      ))}
      <text x={props.labelX} y={props.labelY} textAnchor="middle" fontSize={8} fontWeight={600} fill="#222">Tree age</text>

      <path d={area(core) ?? ""} fill={GRAY} />
      {flat(sg).map((p, i) => (
        <circle key={i} cx={x(p[0])} cy={y(p[1])} r={2.15} fill="none" stroke={GRAY} strokeWidth={0.8} />
      ))}
      <path d={area(band) ?? ""} fill="#000" />
      {flat([...band, ...esg]).map((p, i) => (
        <path key={i} d={triangle} transform={`translate(${x(p[0])},${y(p[1])})`} fill="#000" />
      ))}

      {/* Legend */}
      <g transform={`translate(${props.legendX},${props.legendY})`}>
        <rect width={65} height={props.legendH} fill="#fff" stroke="#a8a8a8" />
        <circle cx={9} cy={props.legendH / 2} r={4} fill="none" stroke="#777" strokeWidth={0.8} />
        <text x={15} y={props.legendH / 2 + 3.5} fontSize={10} fill="#222">SG</text>
        <path d={legendTriangle} transform={`translate(39,${props.legendH / 2 + 0.5})`} fill="#000" />
        <text x={44} y={props.legendH / 2 + 3.5} fontSize={10} fill="#222">eSG</text>
      </g>
    </g>
  );
}

function Caption(props: { x: number; y: number; italic: string; plain?: string }) {
  return (
    <text x={props.x} y={props.y} fontFamily="'Liberation Serif', serif" fontSize={15.5} fill="#111" wordSpacing={4}>
      <tspan fontStyle="italic">{props.italic}</tspan>
      {props.plain ? <tspan dx={6}>{props.plain}</tspan> : null}
    </text>
  );
}

export default function App() {
  return (
    <svg width={810} height={493} style={{ position: "absolute", left: 0, top: 0, background: "#fff" }} fontFamily="'Noto Sans', sans-serif">
      <text x={29} y={15.5} fontSize={6.5} fontWeight={700} fill="#222">(mm)</text>
      <text x={28} y={267.5} fontSize={6.5} fontWeight={700} fill="#222">(mm)</text>

      <Panel left={60.5} right={285.5} top={13.5} bottom={173.5} xTicks={xTicks130} yTicks={yTicks7}
        core={pinusCore} sg={[...pinusSg, ...pinusSgDense]} band={pinusBand} esg={pinusEsg}
        legendX={219.5} legendY={19.5} legendH={16} labelX={173} labelY={204} />
      <Panel left={314.5} right={532.5} top={13.5} bottom={173.5} xTicks={xTicks130} yTicks={yTicks6}
        core={mongolicaCore} sg={[...mongolicaSg, ...mongolicaSgDense]} band={mongolicaBand} esg={mongolicaEsg}
        legendX={467.5} legendY={19.5} legendH={16} labelX={423} labelY={204} />
      <Panel left={560.5} right={781.5} top={13.5} bottom={173.5} xTicks={xTicks90} yTicks={yTicks6}
        core={quercusCore} sg={[...quercusSg, ...quercusSgDense]} band={quercusBand} esg={quercusEsg}
        legendX={714.5} legendY={19.5} legendH={16} labelX={670} labelY={204} />
      <Panel left={58.5} right={281.5} top={265.5} bottom={425.5} xTicks={xTicks80} yTicks={yTicks7}
        core={larixCore} sg={[...larixSg, ...larixSgDense]} band={larixBand} esg={larixEsg}
        legendX={213.5} legendY={270.5} legendH={17} labelX={169} labelY={457} />
      <Panel left={313.5} right={536.5} top={265.5} bottom={425.5} xTicks={xTicks70} yTicks={yTicks6}
        core={castaneaCore} sg={[...castaneaSg, ...castaneaSgDense]} band={castaneaBand} esg={castaneaEsg}
        legendX={468.5} legendY={270.5} legendH={17} labelX={424} labelY={457} />

      <Caption x={96} y={231} italic="Pinus densiflora" />
      <Caption x={347} y={231} italic="Quercus mongolica" />
      <Caption x={626} y={231} italic="Quercus" plain="spp." />
      <Caption x={97} y={481} italic="Larix kaempferi" />
      <Caption x={347} y={481} italic="Castanea crenata" />
    </svg>
  );
}
